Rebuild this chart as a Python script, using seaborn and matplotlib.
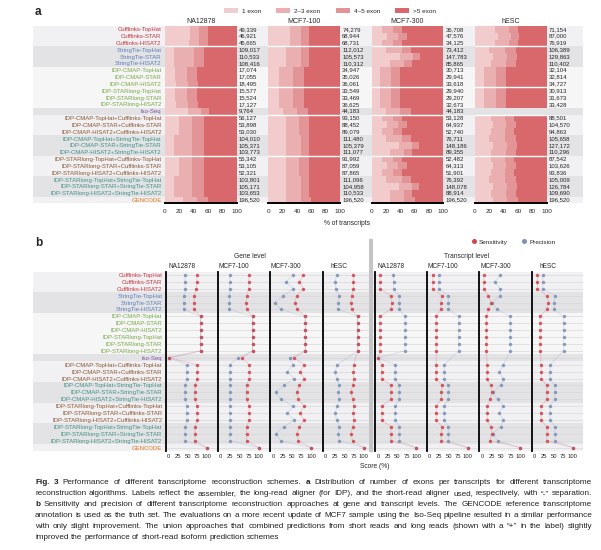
import numpy as np
import pandas as pd
import matplotlib
matplotlib.use("Agg")
import matplotlib.pyplot as plt
from matplotlib.patches import Patch, Rectangle
from matplotlib.lines import Line2D
import seaborn as sns

W, H = 601, 550

# ---------------- data ----------------
schemes = [
    "Cufflinks-TopHat", "Cufflinks-STAR", "Cufflinks-HISAT2",
    "StringTie-TopHat", "StringTie-STAR", "StringTie-HISAT2",
    "IDP-CMAP-TopHat", "IDP-CMAP-STAR", "IDP-CMAP-HISAT2",
    "IDP-STARlong-TopHat", "IDP-STARlong-STAR", "IDP-STARlong-HISAT2",
    "Iso-Seq",
    "IDP-CMAP-TopHat+Cufflinks-TopHat", "IDP-CMAP-STAR+Cufflinks-STAR", "IDP-CMAP-HISAT2+Cufflinks-HISAT2",
    "IDP-CMAP-TopHat+StringTie-TopHat", "IDP-CMAP-STAR+StringTie-STAR", "IDP-CMAP-HISAT2+StringTie-HISAT2",
    "IDP-STARlong-TopHat+Cufflinks-TopHat", "IDP-STARlong-STAR+Cufflinks-STAR", "IDP-STARlong-HISAT2+Cufflinks-HISAT2",
    "IDP-STARlong-TopHat+StringTie-TopHat", "IDP-STARlong-STAR+StringTie-STAR", "IDP-STARlong-HISAT2+StringTie-HISAT2",
    "GENCODE",
]
samples = ["NA12878", "MCF7-100", "MCF7-300", "hESC"]
exon_classes = ["1 exon", "2\u20133 exon", "4\u20135 exon", ">5 exon"]

counts_na12878 = [49339, 46921, 45665, 109017, 110533, 108416, 17074, 17055, 18495, 15577, 15524, 17127,
                  9764, 56127, 53898, 53030, 104010, 105371, 103773, 55342, 53105, 52321, 103801, 105171, 103653, 196520]
counts_mcf7_100 = [74279, 68944, 68731, 112012, 105573, 110312, 34947, 35026, 36061, 33549, 33469, 36625,
                   44183, 93150, 88452, 89079, 111480, 105379, 111077, 91992, 87059, 87865, 111096, 104958, 110533, 196520]
counts_mcf7_300 = [36708, 47576, 34125, 73412, 147783, 85865, 30713, 29941, 33618, 29940, 29207, 32673,
                   44183, 53128, 64937, 52740, 76711, 148186, 89355, 52482, 64313, 51901, 76392, 148078, 88914, 196520]
counts_hesc = [71154, 87000, 76919, 106389, 129863, 110402, 32104, 32814, 34727, 30913, 31673, 33428,
               None, 88501, 104570, 94863, 105658, 127172, 110296, 87542, 103626, 93836, 105009, 126784, 109690, 196520]

# % of transcripts with 1 exon, 2-3 exons, 4-5 exons (>5 exons is the rest)
exon_na12878 = [(35, 12, 13), (35, 13, 12), (34, 13, 13), (12, 28, 15), (12, 28, 15), (12, 28, 15),
                (14, 16, 14), (14, 16, 14), (15, 17, 14), (14, 16, 14), (14, 16, 14), (15, 17, 14),
                (32, 18, 12), (20, 18, 17), (20, 18, 17), (20, 18, 17), (12, 26, 16), (12, 26, 16), (12, 26, 16),
                (20, 18, 17), (20, 18, 17), (20, 18, 17), (12, 26, 16), (12, 26, 16), (12, 26, 16), (25, 20, 15)]
exon_mcf7_100 = [(30, 15, 12), (30, 15, 12), (30, 15, 12), (25, 20, 12), (25, 20, 12), (25, 20, 12),
                 (15, 20, 15), (15, 20, 15), (15, 20, 15), (15, 20, 15), (15, 20, 15), (15, 20, 15),
                 (20, 20, 15), (25, 18, 14), (25, 18, 14), (25, 18, 14), (25, 20, 12), (25, 20, 12), (25, 20, 12),
                 (25, 18, 14), (25, 18, 14), (25, 18, 14), (25, 20, 12), (25, 20, 12), (25, 20, 12), (25, 20, 15)]
exon_mcf7_300 = [(15, 15, 12), (22, 15, 12), (15, 15, 12), (20, 22, 13), (40, 18, 10), (25, 20, 12),
                 (12, 15, 13), (12, 15, 13), (12, 15, 13), (12, 15, 13), (12, 15, 13), (12, 15, 13),
                 (20, 20, 15), (15, 15, 13), (22, 15, 12), (15, 15, 13), (20, 22, 13), (38, 18, 10), (25, 20, 12),
                 (15, 15, 13), (22, 15, 12), (15, 15, 13), (20, 22, 13), (38, 18, 10), (25, 20, 12), (25, 20, 15)]
exon_hesc = [(28, 20, 12), (32, 18, 12), (28, 20, 12), (20, 22, 15), (25, 20, 14), (22, 22, 14),
             (13, 17, 14), (13, 17, 14), (13, 17, 14), (13, 17, 14), (13, 17, 14), (13, 17, 14),
             (None, None, None), (22, 20, 13), (25, 19, 13), (22, 20, 13), (20, 22, 15), (25, 20, 14), (22, 22, 14),
             (22, 20, 13), (25, 19, 13), (22, 20, 13), (20, 22, 15), (25, 20, 14), (22, 22, 14), (25, 20, 15)]

# score (%) per scheme: sensitivity and precision, gene and transcript level
gene_sens_na12878 = [74, 74, 73, 67, 67, 67, 84, 84, 84, 84, 84, 84, 1, 75, 75, 75, 69, 69, 69, 75, 75, 75, 69, 69, 69, 100]
gene_prec_na12878 = [43, 43, 43, 40, 40, 40, 84, 84, 84, 84, 84, 84, 1, 47, 47, 47, 43, 43, 43, 47, 47, 47, 43, 43, 43, 100]
gene_sens_mcf7_100 = [74, 74, 74, 68, 67, 68, 84, 84, 84, 84, 84, 84, 56, 75, 75, 75, 68, 68, 68, 75, 75, 75, 68, 68, 68, 100]
gene_prec_mcf7_100 = [24, 24, 24, 23, 23, 23, 84, 84, 84, 84, 84, 84, 45, 24, 24, 24, 24, 24, 24, 24, 24, 24, 24, 24, 24, 100]
gene_sens_mcf7_300 = [80, 69, 80, 62, 58, 64, 85, 85, 85, 85, 85, 85, 56, 82, 71, 82, 69, 62, 67, 82, 71, 82, 69, 62, 67, 100]
gene_prec_mcf7_300 = [53, 34, 53, 27, 5, 20, 85, 85, 85, 85, 85, 85, 45, 53, 38, 55, 29, 7, 20, 53, 38, 55, 29, 7, 20, 100]
gene_sens_hesc = [73, 73, 73, 68, 66, 68, 84, 84, 84, 84, 84, 84, None, 74, 73, 74, 71, 66, 71, 74, 73, 74, 71, 66, 71, 100]
gene_prec_hesc = [29, 24, 27, 36, 33, 33, 84, 84, 84, 84, 84, 84, None, 31, 24, 29, 36, 33, 36, 31, 24, 29, 36, 33, 36, 100]

tx_sens_na12878 = [5, 5, 5, 33, 36, 33, 5, 5, 5, 5, 5, 5, 0, 10, 10, 10, 34, 34, 34, 10, 10, 10, 34, 34, 34, 100]
tx_prec_na12878 = [40, 41, 41, 56, 56, 56, 71, 71, 71, 71, 71, 71, 0, 45, 45, 45, 56, 56, 56, 45, 45, 45, 56, 56, 56, 100]
tx_sens_mcf7_100 = [8, 8, 8, 32, 29, 29, 17, 17, 17, 17, 17, 17, None, 17, 17, 17, 32, 30, 30, 17, 17, 17, 32, 30, 30, 100]
tx_prec_mcf7_100 = [24, 24, 24, 49, 49, 49, 76, 76, 76, 76, 76, 76, None, 38, 38, 38, 49, 49, 49, 38, 38, 38, 49, 49, 49, 100]
tx_sens_mcf7_300 = [4, 4, 4, 16, 24, 16, 11, 11, 11, 11, 11, 11, None, 13, 13, 13, 22, 26, 20, 13, 13, 13, 22, 26, 20, 100]
tx_prec_mcf7_300 = [47, 33, 47, 47, 26, 38, 74, 74, 74, 74, 74, 74, None, 55, 45, 55, 48, 27, 40, 55, 45, 55, 48, 27, 40, 100]
tx_sens_hesc = [7, 7, 7, 33, 36, 32, 14, 14, 14, 14, 14, 14, None, 17, 17, 17, 32, 32, 32, 17, 17, 17, 32, 32, 32, 100]
tx_prec_hesc = [21, 21, 21, 53, 51, 51, 76, 76, 76, 76, 76, 76, None, 40, 40, 40, 53, 53, 53, 40, 40, 40, 53, 53, 53, 100]

# caption lines, "*" marks a bold word
caption_lines = [
    "*Fig. *3 Performance of different transcriptome reconstruction schemes. *a Distribution of number of exons per transcripts for different transcriptome",
    "reconstruction algorithms. Labels reflect the assembler, the long-read aligner (for IDP), and the short-read aligner used, respectively, with \u201c-\u201d separation.",
    "*b Sensitivity and precision of different transcriptome reconstruction approaches at gene and transcript levels. The GENCODE reference transcriptome",
    "annotation is used as the truth set. The evaluations on a more recent update of MCF7 sample using the Iso-Seq pipeline resulted in a similar performance",
    "with only slight improvement. The union approaches that combined predictions from short reads and long reads (shown with a \u201c+\u201d in the label) slightly",
    "improved the performance of short-read isoform prediction schemes",
]

# ---------------- style ----------------
sns.set_theme(style="white")
plt.rcParams["font.family"] = ["Liberation Sans", "DejaVu Sans"]

exon_colors = ["#f2cccd", "#eab0b1", "#e29496", "#d9686c"]
sens_color = "#d4464f"
prec_color = "#7c93b8"
band_light = "#f1f1f3"
band_dark = "#e3e3e6"
band_white = "#f6f6f7"

group_of_row = ["cuff"] * 3 + ["st"] * 3 + ["idp"] * 6 + ["iso"] + ["ic"] * 3 + ["is"] * 3 + ["ic"] * 3 + ["is"] * 3 + ["gen"]
label_color = {"cuff": "#c3343d", "st": "#5b7fb8", "idp": "#78a845", "iso": "#7b4fa3",
               "ic": "#8a5432", "is": "#3f9184", "gen": "#e5761f"}
shade_of_group = {"cuff": band_light, "st": band_dark, "idp": band_white, "iso": band_dark,
                  "ic": band_light, "is": band_dark, "gen": band_light}
n = len(schemes)

fig = plt.figure(figsize=(W / 100, H / 100), dpi=100)


def px_ax(x0, y0, x1, y1):
    ax = fig.add_axes([x0 / W, 1 - y1 / H, (x1 - x0) / W, (y1 - y0) / H])
    ax.set_facecolor("none")
    return ax


def band_axis(y0, y1):
    bg = px_ax(33, y0, 583, y1)
    bg.set_xlim(0, 1)
    bg.set_ylim(n - 0.5, -0.5)
    bg.axis("off")
    for i, g in enumerate(group_of_row):
        bg.axhspan(i - 0.5, i + 0.5, color=shade_of_group[g], lw=0)
    return bg


def row_labels(ax):
    ax.set_yticks(range(n))
    ax.set_yticklabels(schemes, fontsize=4.3)
    for lab, g in zip(ax.get_yticklabels(), group_of_row):
        lab.set_color(label_color[g])
    ax.tick_params(axis="y", length=0, pad=2.5)


# ---------------- panel a ----------------
A_TOP, A_BOT = 25.9, 203.4
a_left = [165, 268.3, 371.6, 474.9]
a_width = 71.7

fig.text(35 / W, 1 - 12 / H, "a", fontsize=8.5, fontweight="bold", va="center")
band_axis(A_TOP, A_BOT)

all_counts = [counts_na12878, counts_mcf7_100, counts_mcf7_300, counts_hesc]
all_exons = [exon_na12878, exon_mcf7_100, exon_mcf7_300, exon_hesc]
for k, name in enumerate(samples):
    ax = px_ax(a_left[k], A_TOP, a_left[k] + a_width, A_BOT)
    df = pd.DataFrame(all_exons[k], columns=["one", "two", "four"], dtype=float)
    df["scheme"] = schemes
    df["c1"] = df["one"]
    df["c2"] = df["c1"] + df["two"]
    df["c3"] = df["c2"] + df["four"]
    df["c4"] = df["c3"] * 0 + 100
    for col, color in zip(["c4", "c3", "c2", "c1"], exon_colors[::-1]):
        sns.barplot(data=df, x=col, y="scheme", order=schemes, color=color, width=1.0,
                    saturation=1, errorbar=None, linewidth=0, orient="h", ax=ax)
    for sep in [2.5, 8.5, 12.5, 18.5]:
        ax.axhline(sep, color="white", lw=1.0)
    ax.set_xlim(0, 100)
    ax.set_ylim(n - 0.5, -0.5)
    ax.set_xlabel("")
    ax.set_ylabel("")
    if k == 0:
        row_labels(ax)
    else:
        ax.set_yticks([])
    ax.set_xticks([0, 20, 40, 60, 80, 100])
    ax.tick_params(axis="x", length=0, pad=4, labelsize=4.6)
    for s in ["left", "top", "right"]:
        ax.spines[s].set_visible(False)
    ax.spines["bottom"].set_linewidth(1.4)
    ax.spines["bottom"].set_color("black")
    for i, c in enumerate(all_counts[k]):
        if c is not None:
            ax.text(103, i, f"{c:,}", fontsize=4.3, va="center", ha="left", clip_on=False)
    ax.text(50, -1.1, name, fontsize=5, ha="center", va="center")

fig.text(347 / W, 1 - 223 / H, "% of transcripts", fontsize=4.8, ha="center", va="center")

handles = [Patch(facecolor=c, edgecolor="none") for c in exon_colors]
fig.legend(handles, exon_classes, ncol=4, loc="center", bbox_to_anchor=(330 / W, 1 - 11 / H),
           frameon=False, fontsize=4.6, handlelength=2.2, handleheight=0.9, handletextpad=0.6,
           columnspacing=2.4)

# ---------------- panel b ----------------
B_TOP, B_BOT = 271.5, 451.0
gene_left = [165.7, 217.7, 270.0, 322.7]
tx_left = [375.0, 426.7, 479.3, 531.7]
b_width = 51.0
px_per_pct = 0.38
x_lo = -3 / px_per_pct
x_hi = (b_width - 3) / px_per_pct

fig.text(35 / W, 1 - 243 / H, "b", fontsize=8.5, fontweight="bold", va="center")
band_axis(B_TOP, B_BOT)

fig.patches.append(Rectangle((369 / W, 1 - 452 / H), 3.5 / W, 213 / H, transform=fig.transFigure,
                             facecolor="#c4c4c6", edgecolor="none"))

gene_sens = [gene_sens_na12878, gene_sens_mcf7_100, gene_sens_mcf7_300, gene_sens_hesc]
gene_prec = [gene_prec_na12878, gene_prec_mcf7_100, gene_prec_mcf7_300, gene_prec_hesc]
tx_sens = [tx_sens_na12878, tx_sens_mcf7_100, tx_sens_mcf7_300, tx_sens_hesc]
tx_prec = [tx_prec_na12878, tx_prec_mcf7_100, tx_prec_mcf7_300, tx_prec_hesc]

rows = np.arange(n)
for level, lefts, sens_all, prec_all in [("gene", gene_left, gene_sens, gene_prec),
                                         ("tx", tx_left, tx_sens, tx_prec)]:
    for k, name in enumerate(samples):
        ax = px_ax(lefts[k], B_TOP, lefts[k] + b_width, B_BOT)
        sens = np.array(sens_all[k], dtype=float)
        prec = np.array(prec_all[k], dtype=float)
        ax.grid(axis="y", color="#d8d8da", lw=0.5)
        ax.set_axisbelow(True)
        for vals, color in [(prec, prec_color), (sens, sens_color)]:
            ok = ~np.isnan(vals)
            sns.lineplot(x=vals[ok], y=rows[ok], orient="y", sort=False, estimator=None,
                         color=color, alpha=0.25, lw=0.6, ax=ax)
            sns.scatterplot(x=vals[ok], y=rows[ok], color=color, s=6, linewidth=0, alpha=0.9, ax=ax)
        ax.set_xlim(x_lo, x_hi)
        ax.set_ylim(n - 0.5, -0.5)
        ax.set_yticks(range(n))
        if level == "gene" and k == 0:
            row_labels(ax)
        else:
            ax.set_yticklabels([])
            ax.tick_params(axis="y", length=0)
        ax.set_xticks([0, 25, 50, 75, 100])
        ax.tick_params(axis="x", length=0, pad=2, labelsize=4.2)
        for s in ["top", "right", "bottom"]:
            ax.spines[s].set_visible(False)
        ax.spines["left"].set_linewidth(1.3)
        ax.spines["left"].set_color("black")
        ax.text(35, -1.2, name, fontsize=4.7, ha="center", va="center")

fig.text(250 / W, 1 - 256 / H, "Gene level", fontsize=4.8, ha="center", va="center")
fig.text(467 / W, 1 - 256 / H, "Transcript level", fontsize=4.8, ha="center", va="center")
fig.text(375 / W, 1 - 466 / H, "Score (%)", fontsize=4.8, ha="center", va="center")

dot_handles = [Line2D([], [], marker="o", ls="none", color=sens_color, markersize=2.6),
               Line2D([], [], marker="o", ls="none", color=prec_color, markersize=2.6)]
fig.legend(dot_handles, ["Sensitivity", "Precision"], ncol=2, loc="center",
           bbox_to_anchor=(513 / W, 1 - 242 / H), frameon=False, fontsize=4.6,
           handlelength=1.0, handletextpad=0.3, columnspacing=2.0)

# ---------------- caption (justified) ----------------
renderer = fig.canvas.get_renderer()
CAP_X0, CAP_X1 = 35, 592
CAP_FS = 5.9
probe = fig.text(0, 0, "a a", fontsize=CAP_FS)
w_two = probe.get_window_extent(renderer=renderer).width
probe.set_text("aa")
space_w = w_two - probe.get_window_extent(renderer=renderer).width
probe.remove()

for li, line in enumerate(caption_lines):
    y = 484 + li * 11
    words = line.split(" ")
    texts, widths = [], []
    for wd in words:
        bold = wd.startswith("*")
        t = fig.text(0, 1 - y / H, wd.lstrip("*"), fontsize=CAP_FS, fontweight="bold" if bold else "normal",
                     va="baseline", ha="left", color="#222222")
        texts.append(t)
        widths.append(t.get_window_extent(renderer=renderer).width)
    last = li == len(caption_lines) - 1
    gap = space_w if last else max(0.6 * space_w, (CAP_X1 - CAP_X0 - sum(widths)) / (len(words) - 1))
    x = CAP_X0
    for t, wdt in zip(texts, widths):
        t.set_x(x / W)
        x += wdt + gap

fig.savefig("out.png", dpi=100)
